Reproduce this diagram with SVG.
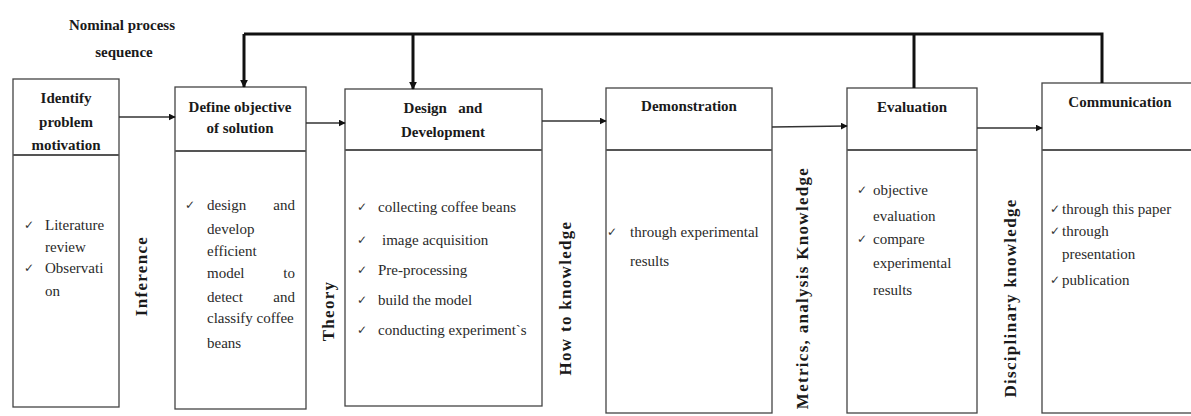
<svg xmlns="http://www.w3.org/2000/svg" width="1191" height="416" viewBox="0 0 1191 416">
  <style>
    .box { fill: #fff; stroke: #444; stroke-width: 1.3; }
    .div { stroke: #555; stroke-width: 2; }
    .title { font-family: "Liberation Serif", "Times New Roman", Tinos, "DejaVu Serif", serif; font-weight: bold; font-size: 15px; fill: #1a1a1a; text-anchor: middle; }
    .body { font-family: "Liberation Serif", "Times New Roman", Tinos, "DejaVu Serif", serif; font-size: 15px; fill: #2a2a2a; }
    .chk { font-family: "DejaVu Sans", sans-serif; font-size: 12px; fill: #333; }
    .side { font-family: "Liberation Serif", "Times New Roman", Tinos, "DejaVu Serif", serif; font-weight: bold; font-size: 17px; fill: #1a1a1a; text-anchor: middle; letter-spacing: 1.3px; }
    .flow { stroke: #333; stroke-width: 1.3; fill: none; marker-end: url(#tip); }
    .fb { stroke: #111; stroke-width: 3; fill: none; }
  </style>
  <defs>
    <marker id="tip" viewBox="0 0 10 10" refX="9" refY="5" markerWidth="7" markerHeight="7" markerUnits="userSpaceOnUse" orient="auto">
      <path d="M0,0 L10,5 L0,10 z" fill="#111"/>
    </marker>
    <marker id="tipFb" viewBox="0 0 10 10" refX="9" refY="5" markerWidth="8" markerHeight="8" markerUnits="userSpaceOnUse" orient="auto">
      <path d="M0,0 L10,5 L0,10 z" fill="#111"/>
    </marker>
  </defs>

  <rect width="1191" height="416" fill="#fff"/>

  <!-- heading -->
  <g id="heading">
    <text class="title" x="122" y="30">Nominal process</text>
    <text class="title" x="124" y="57">sequence</text>
  </g>

  <!-- step 1 -->
  <g id="identify">
    <rect class="box" x="13" y="79" width="106" height="328"/>
    <line class="div" x1="13" y1="155" x2="119" y2="155"/>
    <text class="title" x="66" y="103">Identify</text>
    <text class="title" x="66" y="127">problem</text>
    <text class="title" x="66" y="150">motivation</text>
    <text class="chk" x="24" y="229">✓</text>
    <text class="body" x="45" y="230">Literature</text>
    <text class="body" x="45" y="252">review</text>
    <text class="chk" x="24" y="272">✓</text>
    <text class="body" x="45" y="273">Observati</text>
    <text class="body" x="45" y="296">on</text>
  </g>

  <!-- step 2 -->
  <g id="define">
    <rect class="box" x="175" y="87" width="131" height="322"/>
    <line class="div" x1="175" y1="151" x2="306" y2="151"/>
    <text class="title" x="240" y="112">Define objective</text>
    <text class="title" x="240" y="133">of solution</text>
    <text class="chk" x="185" y="209">✓</text>
    <text class="body" x="207" y="210">design</text>
    <text class="body" x="295" y="210" text-anchor="end">and</text>
    <text class="body" x="207" y="234">develop</text>
    <text class="body" x="207" y="256">efficient</text>
    <text class="body" x="207" y="278">model</text>
    <text class="body" x="295" y="278" text-anchor="end">to</text>
    <text class="body" x="207" y="302">detect</text>
    <text class="body" x="295" y="302" text-anchor="end">and</text>
    <text class="body" x="207" y="323">classify coffee</text>
    <text class="body" x="207" y="348">beans</text>
  </g>

  <!-- step 3 -->
  <g id="design">
    <rect class="box" x="345" y="89" width="197" height="317"/>
    <line class="div" x1="345" y1="150" x2="542" y2="150"/>
    <text class="title" x="443" y="113" xml:space="preserve">Design   and</text>
    <text class="title" x="443" y="137">Development</text>
    <text class="chk" x="357" y="211">✓</text>
    <text class="body" x="378" y="212">collecting coffee beans</text>
    <text class="chk" x="357" y="244">✓</text>
    <text class="body" x="382" y="245">image acquisition</text>
    <text class="chk" x="357" y="274">✓</text>
    <text class="body" x="378" y="275">Pre-processing</text>
    <text class="chk" x="357" y="304">✓</text>
    <text class="body" x="378" y="305">build the model</text>
    <text class="chk" x="357" y="334">✓</text>
    <text class="body" x="378" y="335">conducting experiment`s</text>
  </g>

  <!-- step 4 -->
  <g id="demonstration">
    <rect class="box" x="606" y="88" width="166" height="325"/>
    <line class="div" x1="606" y1="150" x2="772" y2="150"/>
    <text class="title" x="689" y="111">Demonstration</text>
    <text class="chk" x="607" y="236">✓</text>
    <text class="body" x="630" y="237">through experimental</text>
    <text class="body" x="630" y="266">results</text>
  </g>

  <!-- step 5 -->
  <g id="evaluation">
    <rect class="box" x="847" y="88" width="130" height="325"/>
    <line class="div" x1="847" y1="150" x2="977" y2="150"/>
    <text class="title" x="912" y="112">Evaluation</text>
    <text class="chk" x="857" y="194">✓</text>
    <text class="body" x="873" y="195">objective</text>
    <text class="body" x="873" y="221">evaluation</text>
    <text class="chk" x="857" y="243">✓</text>
    <text class="body" x="873" y="244">compare</text>
    <text class="body" x="873" y="268">experimental</text>
    <text class="body" x="873" y="295">results</text>
  </g>

  <!-- step 6 -->
  <g id="communication">
    <rect class="box" x="1042" y="83" width="160" height="330"/>
    <line class="div" x1="1042" y1="150" x2="1191" y2="150"/>
    <text class="title" x="1120" y="107">Communication</text>
    <text class="chk" x="1050" y="213">✓</text>
    <text class="body" x="1062" y="214">through this paper</text>
    <text class="chk" x="1050" y="235">✓</text>
    <text class="body" x="1062" y="236">through</text>
    <text class="body" x="1062" y="259">presentation</text>
    <text class="chk" x="1050" y="284">✓</text>
    <text class="body" x="1062" y="285">publication</text>
  </g>

  <!-- knowledge labels between steps -->
  <g id="labels">
    <text class="side" transform="translate(147,276) rotate(-90)">Inference</text>
    <text class="side" transform="translate(334,311) rotate(-90)">Theory</text>
    <text class="side" transform="translate(571,298) rotate(-90)">How to knowledge</text>
    <text class="side" transform="translate(808,288) rotate(-90)">Metrics, analysis Knowledge</text>
    <text class="side" transform="translate(1016,298) rotate(-90)">Disciplinary knowledge</text>
  </g>

  <!-- connectors -->
  <g id="connectors">
    <line class="flow" x1="119" y1="117" x2="175" y2="117"/>
    <line class="flow" x1="306" y1="123" x2="345" y2="123"/>
    <line class="flow" x1="542" y1="121" x2="606" y2="121"/>
    <line class="flow" x1="772" y1="127" x2="847" y2="126"/>
    <line class="flow" x1="977" y1="128" x2="1042" y2="128"/>
    <!-- feedback loop back to earlier steps -->
    <path class="fb" d="M1102,83 V34 H244"/>
    <line class="fb" x1="914" y1="34" x2="914" y2="88"/>
    <line class="fb" x1="244" y1="34" x2="244" y2="87" marker-end="url(#tipFb)"/>
    <line class="fb" x1="413" y1="34" x2="413" y2="89" marker-end="url(#tipFb)"/>
  </g>
</svg>
